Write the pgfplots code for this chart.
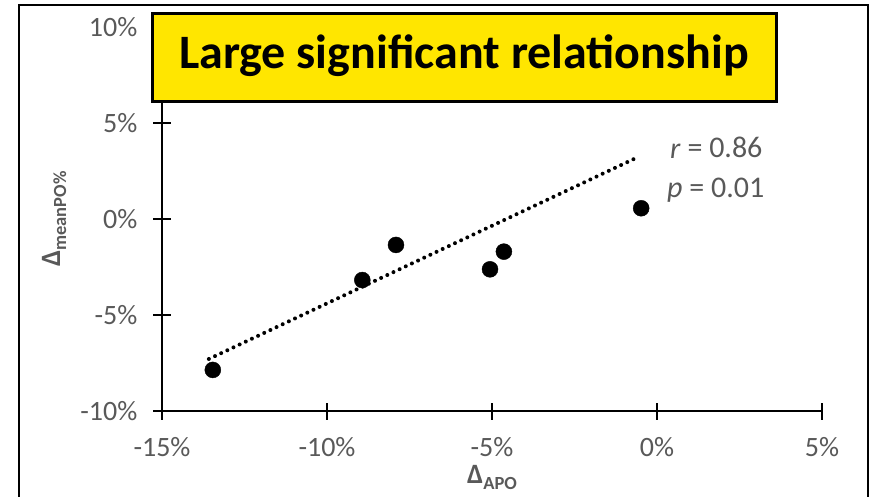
\documentclass[border=0pt]{standalone}
\usepackage{fontspec}
\setmainfont{Carlito}
\usepackage{pgfplots}
\pgfplotsset{compat=1.18}
\definecolor{tgrey}{RGB}{89,89,89}
\definecolor{tyellow}{RGB}{255,230,0}
\begin{document}
\begin{tikzpicture}[x=1pt,y=1pt]
\useasboundingbox (-162,-85) rectangle (713,411);
\begin{axis}[
  at={(0,0)}, anchor=south west,
  scale only axis, width=660pt, height=384pt,
  xmin=-15, xmax=5, ymin=-10, ymax=10,
  axis lines*=left,
  axis line style={line width=2pt, black},
  tick align=center, major tick length=17pt,
  tick style={line width=1.6pt, black},
  xtick={-15,-10,-5,0,5},
  xticklabels={-15\%,-10\%,-5\%,0\%,5\%},
  ytick={-10,-5,0,5,10},
  yticklabels={-10\%,-5\%,0\%,5\%,10\%},
  tick label style={text=tgrey, font=\fontsize{28}{30}\selectfont},
  x tick label style={anchor=north, inner sep=0pt, yshift=-18pt},
  y tick label style={anchor=east, inner sep=0pt, xshift=-16pt},
  xlabel={\textbf{Δ}\raisebox{-6pt}{\fontsize{18.5}{19}\selectfont\bfseries APO}},
  ylabel={\textbf{Δ}\raisebox{-6pt}{\fontsize{18.5}{19}\selectfont\bfseries meanPO\%}},
  label style={text=tgrey, font=\fontsize{28}{30}\selectfont, inner sep=0pt},
  x label style={at={(axis description cs:0.5,-0.1875)}, anchor=base},
  y label style={at={(axis description cs:-0.1545,0.5)}, anchor=base},
  clip=false,
]
\addplot[black, line width=4pt, line cap=round, dash pattern=on 0pt off 6.8pt]
  coordinates {(-13.58,-7.29) (-0.70,3.125)};
\addplot[only marks, mark=*, mark size=8pt, black] coordinates {
  (-13.46,-7.86) (-8.93,-3.18) (-7.91,-1.35) (-5.06,-2.62) (-4.64,-1.70) (-0.48,0.56)
};
\end{axis}
\node[anchor=base west, text=tgrey, font=\fontsize{30}{32}\selectfont, inner sep=0pt] at (508,253) {\textit{r} = 0.86};
\node[anchor=base west, text=tgrey, font=\fontsize{30}{32}\selectfont, inner sep=0pt] at (505,214) {\textit{p} = 0.01};
\draw[line width=3pt, fill=tyellow] (-10,309) rectangle (614,397);
\node[anchor=base, font=\fontsize{48}{52}\selectfont\bfseries, inner sep=0pt] at (302,342) {Large significant relationship};
\draw[line width=2.5pt] (-143,-100) rectangle (706,406);
\end{tikzpicture}
\end{document}
